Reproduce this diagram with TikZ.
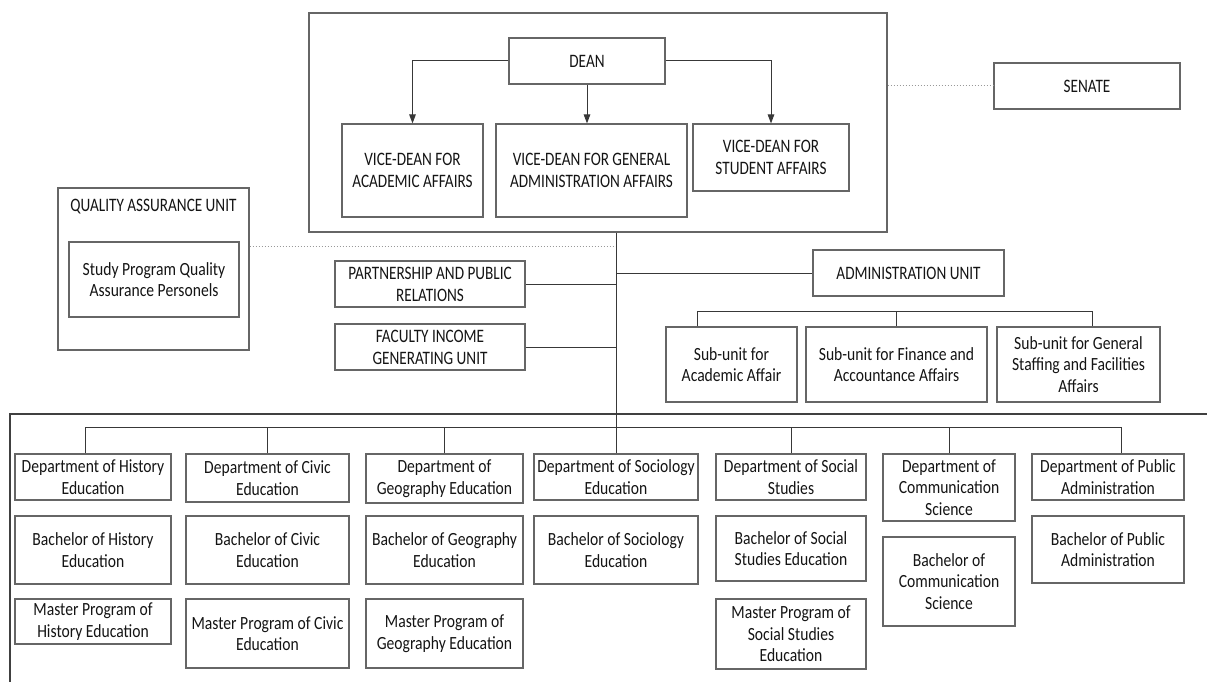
\documentclass[tikz,border=0pt]{standalone}
\usepackage{fontspec}
\setmainfont{Carlito}[FakeStretch=0.84]
\newfontfamily\capsfont{Carlito}[FakeStretch=0.8]
\usetikzlibrary{arrows.meta}

\begin{document}
\begin{tikzpicture}[x=1pt,y=-1pt,
    box/.style={draw=black!60,line width=1.1pt,align=center,inner sep=1pt,text=black!92},
    up/.style={box,font=\capsfont\fontsize{19}{22}\selectfont},
    low/.style={box,font=\fontsize{18.6}{21.5}\selectfont},
    link/.style={black!78,line width=1pt},
    arr/.style={link,-{Triangle[length=9pt,width=6.5pt]}},
    dots/.style={black!40,line width=1pt,dotted}]
    \useasboundingbox (0,0) rectangle (1207,682);
    \node[box,minimum width=578pt,minimum height=219pt] at (598,122.5) (lead) {};
    \node[up,minimum width=156pt,minimum height=46pt] at (587,61) (dean) {DEAN};
    \node[up,minimum width=141pt,minimum height=93pt] at (412.5,170.5) (vdacad) {VICE-DEAN FOR\\ACADEMIC AFFAIRS};
    \node[up,minimum width=191pt,minimum height=93pt] at (591.5,170.5) (vdadmin) {VICE-DEAN FOR GENERAL\\ADMINISTRATION AFFAIRS};
    \node[up,minimum width=156pt,minimum height=67pt] at (771,157.5) (vdstud) {VICE-DEAN FOR\\STUDENT AFFAIRS};
    \node[up,minimum width=186pt,minimum height=46pt] at (1087,86) (senate) {SENATE};
    \node[box,minimum width=191pt,minimum height=162pt] at (153.5,269) (qa) {};
    \node[up,draw=none] at (153.5,207) (qatitle) {QUALITY ASSURANCE UNIT};
    \node[low,minimum width=170pt,minimum height=75pt] at (154,279.5) (qastaff) {Study Program Quality\\Assurance Personels};
    \node[up,minimum width=190pt,minimum height=46pt] at (430,284) (partner) {PARTNERSHIP AND PUBLIC\\RELATIONS};
    \node[up,minimum width=190pt,minimum height=46pt] at (430,347) (income) {FACULTY INCOME\\GENERATING UNIT};
    \node[up,minimum width=191pt,minimum height=46pt] at (908.5,273) (admin) {ADMINISTRATION UNIT};
    \node[low,minimum width=131pt,minimum height=75pt] at (731.5,364.5) (suacad) {Sub-unit for\\Academic Affair};
    \node[low,minimum width=181pt,minimum height=75pt] at (896.5,364.5) (sufin) {Sub-unit for Finance and\\Accountance Affairs};
    \node[low,minimum width=163pt,minimum height=75pt] at (1078.5,364.5) (sustaff) {Sub-unit for General\\Staffing and Facilities\\Affairs};
    \node[low,minimum width=156pt,minimum height=46pt] at (93,477) (dhist) {Department of History\\Education};
    \node[low,minimum width=156pt,minimum height=68pt] at (93,550) (bhist) {Bachelor of History\\Education};
    \node[low,minimum width=156pt,minimum height=45pt] at (93,621.5) (mhist) {Master Program of\\History Education};
    \node[low,minimum width=163pt,minimum height=48pt] at (267.5,478) (dcivic) {Department of Civic\\Education};
    \node[low,minimum width=163pt,minimum height=68pt] at (267.5,550) (bcivic) {Bachelor of Civic\\Education};
    \node[low,minimum width=163pt,minimum height=69pt] at (267.5,633.5) (mcivic) {Master Program of Civic\\Education};
    \node[low,minimum width=157pt,minimum height=49pt] at (444.5,478.5) (dgeo) {Department of\\Geography Education};
    \node[low,minimum width=157pt,minimum height=68pt] at (444.5,550) (bgeo) {Bachelor of Geography\\Education};
    \node[low,minimum width=157pt,minimum height=69pt] at (444.5,633.5) (mgeo) {Master Program of\\Geography Education};
    \node[low,minimum width=164pt,minimum height=46pt] at (616,477) (dsoc) {Department of Sociology\\Education};
    \node[low,minimum width=164pt,minimum height=68pt] at (616,550) (bsoc) {Bachelor of Sociology\\Education};
    \node[low,minimum width=150pt,minimum height=46pt] at (791,477) (dss) {Department of Social\\Studies};
    \node[low,minimum width=150pt,minimum height=65pt] at (791,548.5) (bss) {Bachelor of Social\\Studies Education};
    \node[low,minimum width=150pt,minimum height=70pt] at (791,634) (mss) {Master Program of\\Social Studies\\Education};
    \node[low,minimum width=132pt,minimum height=67pt] at (949,487.5) (dcom) {Department of\\Communication\\Science};
    \node[low,minimum width=132pt,minimum height=89pt] at (949,581.5) (bcom) {Bachelor of\\Communication\\Science};
    \node[low,minimum width=152pt,minimum height=46pt] at (1108,477) (dpub) {Department of Public\\Administration};
    \node[low,minimum width=152pt,minimum height=67pt] at (1108,549.5) (bpub) {Bachelor of Public\\Administration};
    \coordinate (hub) at (616,427);
    \coordinate (qadot) at (616,246);
    \coordinate (subbus) at (897,311);
    \draw[black!75,line width=1.1pt] (1207,414) -- (10,414) -- (10,682);
    \draw[arr] (dean.west) -| (vdacad.north);
    \draw[arr] (dean.south) -- (dean.south |- vdadmin.north);
    \draw[arr] (dean.east) -| (vdstud.north);
    \draw[dots] (lead.east |- senate.west) -- (senate.west);
    \draw[dots] (qa.east |- qadot) -- (qadot);
    \draw[link] (lead.south -| hub) -- (hub);
    \draw[link] (partner.east) -- (partner.east -| hub);
    \draw[link] (income.east) -- (income.east -| hub);
    \draw[link] (admin.west -| hub) -- (admin.west);
    \draw[link] (sufin.north |- subbus) -- (sufin.north);
    \draw[link] ([xshift=-34pt]suacad.north) -- ([xshift=-34pt]suacad.north |- subbus) -- ([xshift=14pt]sustaff.north |- subbus) -- ([xshift=14pt]sustaff.north);
    \draw[link] ([xshift=-8pt]dhist.north) -- ([xshift=-8pt]dhist.north |- hub) -- ([xshift=13pt]dpub.north |- hub) -- ([xshift=13pt]dpub.north);
    \foreach \d in {dcivic,dgeo,dsoc,dss,dcom}
        \draw[link] (\d.north) -- (\d.north |- hub);
\end{tikzpicture}
\end{document}
